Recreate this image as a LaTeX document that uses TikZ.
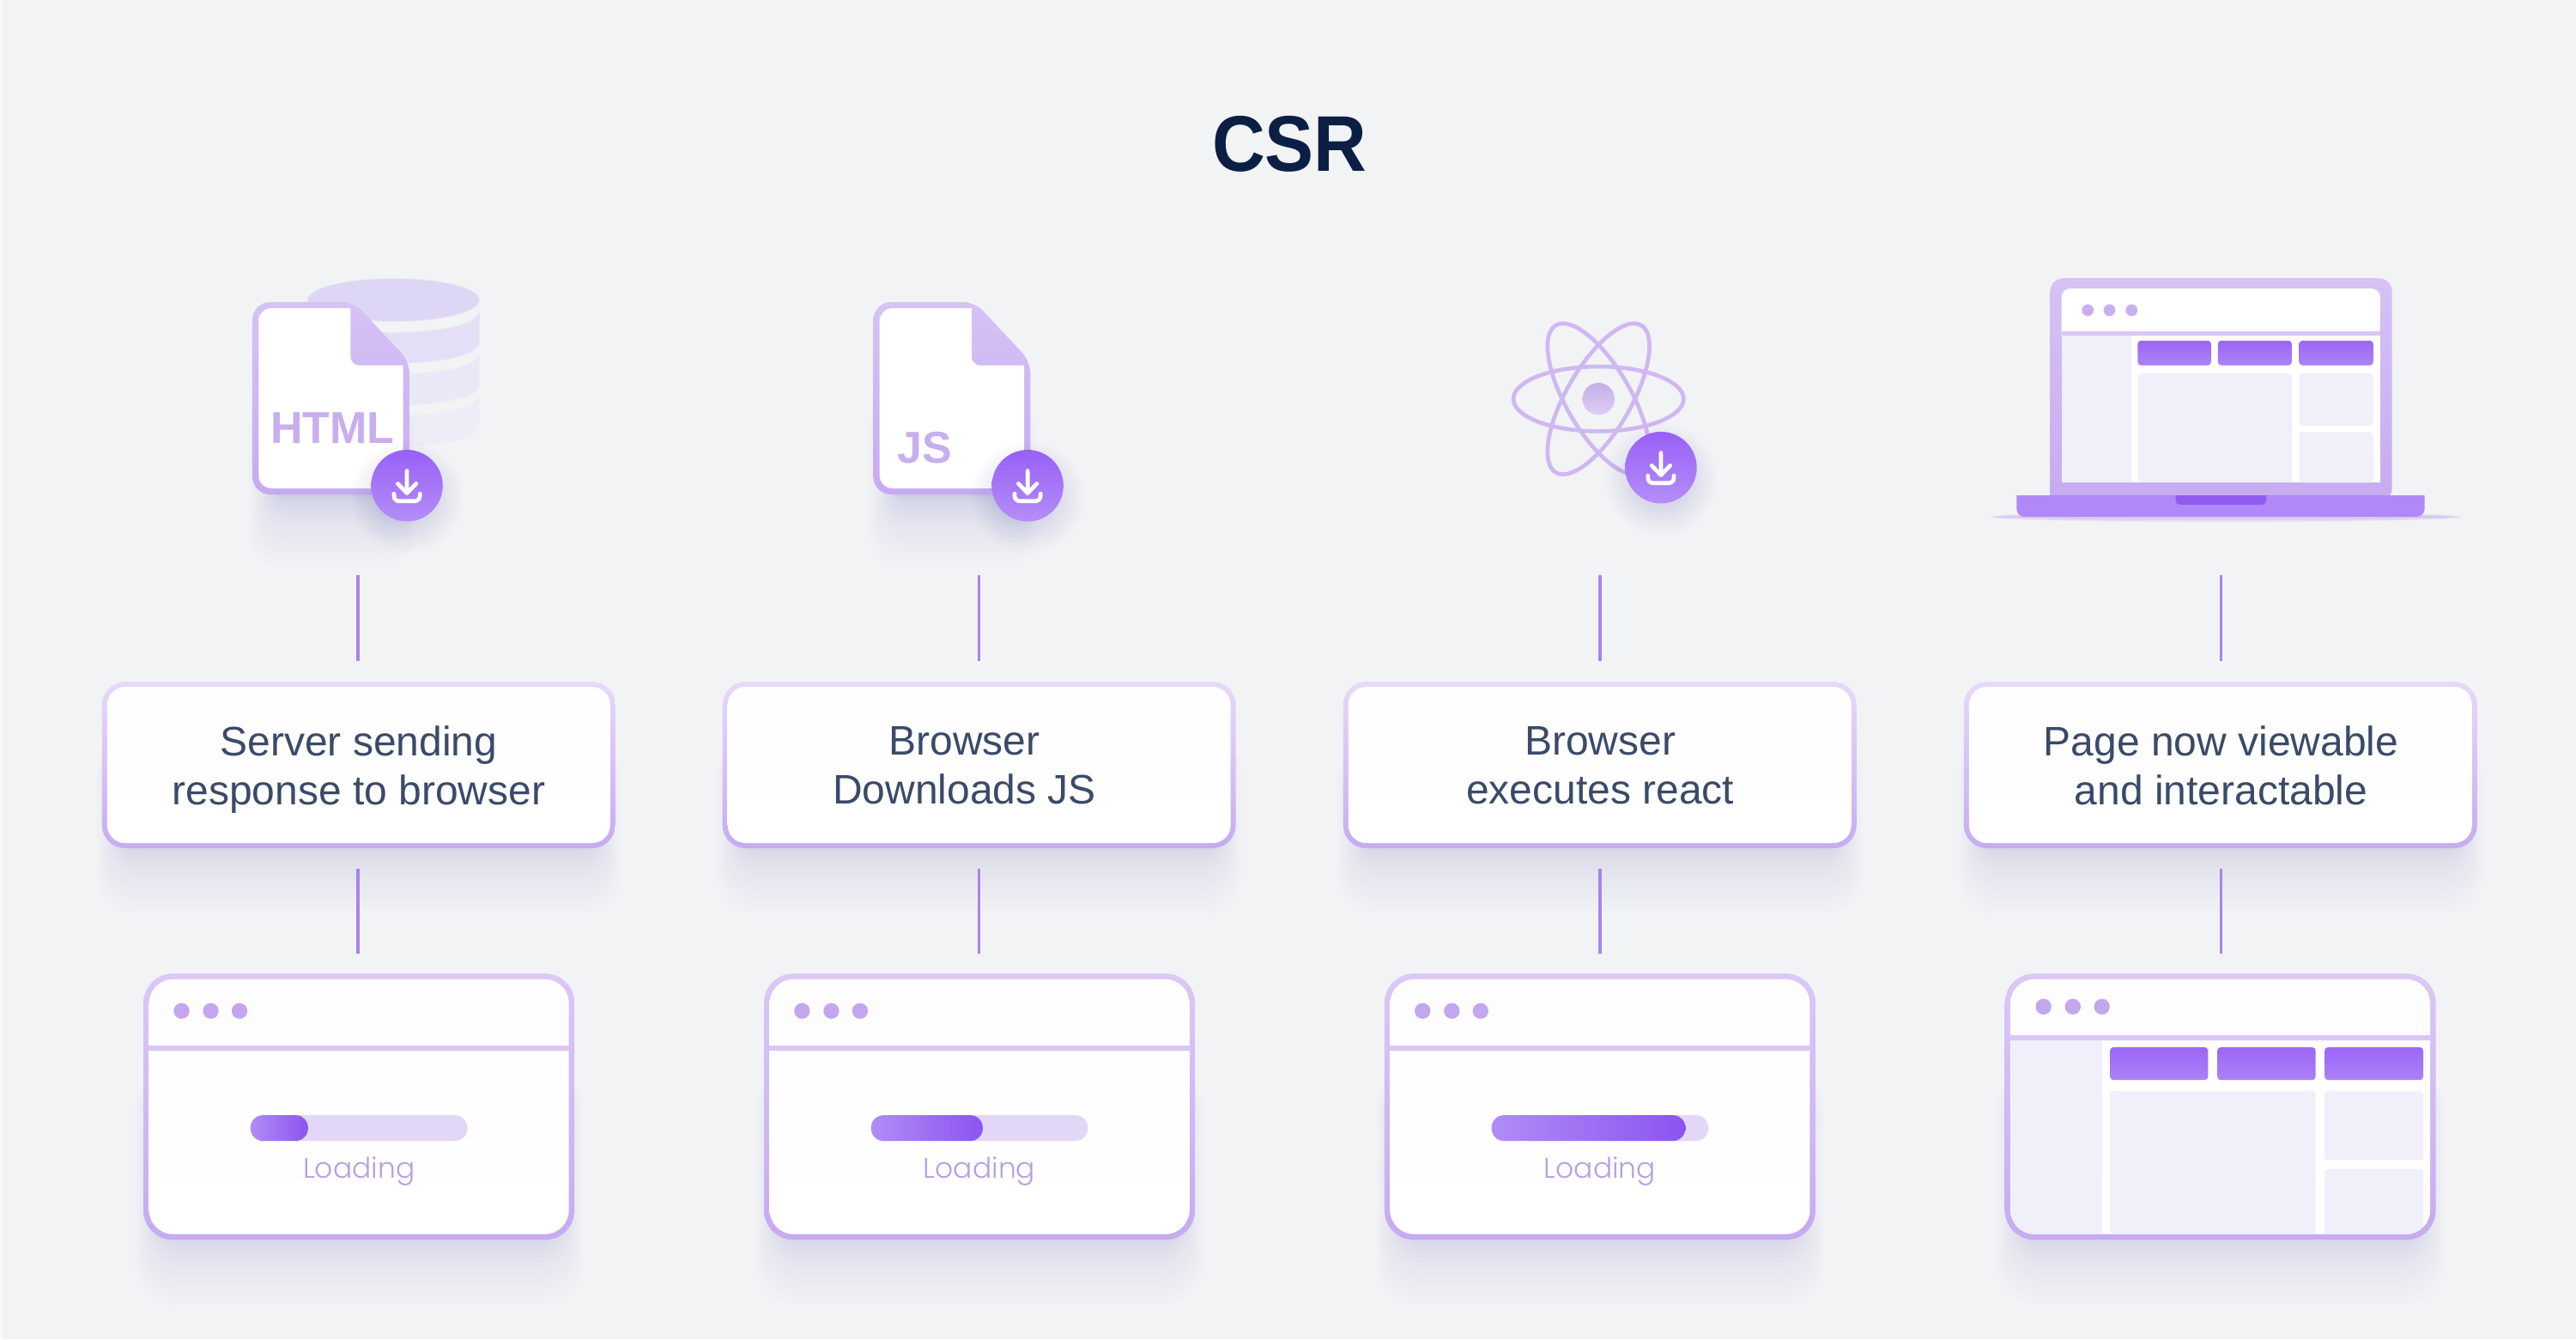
\documentclass[tikz,border=0pt]{standalone}
\usepackage{fontspec}
\setmainfont{Liberation Sans}
\newfontfamily\loadfont{Poppins Light}
\usetikzlibrary{calc}
\definecolor{bgc}{HTML}{F2F3F5}
\definecolor{edgec}{HTML}{F9F9FB}
\definecolor{titlec}{HTML}{0B1F44}
\definecolor{labelc}{HTML}{3A4A68}
\definecolor{connc}{HTML}{A884EC}
\definecolor{rimtop}{HTML}{E6DAF9}
\definecolor{rimbot}{HTML}{C6ABF1}
\definecolor{wintop}{HTML}{DAC8F6}
\definecolor{winbot}{HTML}{C6ABF0}
\definecolor{doctop}{HTML}{D6C2F5}
\definecolor{sepc}{HTML}{D9C6F5}
\definecolor{dotc}{HTML}{C3A6EE}
\definecolor{panelc}{HTML}{F0EFFA}
\definecolor{shadowc}{HTML}{6F5FA8}
\definecolor{btntop}{HTML}{9B66F6}
\definecolor{btnbot}{HTML}{AC82F7}
\definecolor{badgetop}{HTML}{9860F6}
\definecolor{badgebot}{HTML}{B48EF9}
\definecolor{barc}{HTML}{E3D7F7}
\definecolor{progl}{HTML}{B08CF6}
\definecolor{progr}{HTML}{8B54F0}
\definecolor{loadc}{HTML}{B7A0E0}
\definecolor{iconc}{HTML}{C9AEEE}
\definecolor{atomc}{HTML}{CFB8F2}
\definecolor{dba}{HTML}{DDD6F5}
\definecolor{dbb}{HTML}{E4DFF6}
\definecolor{dbc}{HTML}{EAE7F6}
\definecolor{dbd}{HTML}{EEECF6}
\tikzset{
  conn/.style={draw=connc,line width=3.6pt},
  cardrim/.style={rectangle,draw=none,top color=rimtop,bottom color=rimbot,rounded corners=27pt,minimum width=598pt,minimum height=194pt,inner sep=0pt},
  cardface/.style={rectangle,draw=none,top color=white!90!panelc,bottom color=white,rounded corners=21pt,minimum width=586pt,minimum height=182pt,inner sep=0pt},
  cardtext/.style={align=center,text=labelc,inner sep=0pt,font=\fontsize{48}{57}\selectfont},
  winrim/.style={rectangle,draw=none,top color=wintop,bottom color=winbot,rounded corners=34pt,minimum width=502pt,minimum height=310pt,inner sep=0pt},
  winface/.style={rectangle,draw=none,top color=white!85!panelc,bottom color=white,rounded corners=28pt,minimum width=489pt,minimum height=297pt,inner sep=0pt},
  loadtext/.style={text=loadc,inner sep=0pt,anchor=base,font=\loadfont\fontsize{33}{36}\selectfont},
  icontext/.style={text=iconc,inner sep=0pt,anchor=base west,font=\bfseries\fontsize{52}{56}\selectfont},
  titletext/.style={text=titlec,inner sep=0pt,font=\bfseries\fontsize{92}{100}\selectfont},
  atomring/.style={draw=atomc,line width=4.7pt},
  btn/.style={top color=btntop,bottom color=btnbot,rounded corners=4pt},
  panel/.style={fill=panelc,rounded corners=4pt},
  bardot/.style={fill=dotc}
}
% soft shadow: stacked translucent rounded rectangles, growing mostly downward
% x1 y1 x2 y2 radius opacity
\newcommand\softrect[6]{%
  \foreach \i in {0,...,19}{%
    \pgfmathsetmacro\rr{#5+1.6*\i}%
    \pgfmathsetmacro\ss{.04*\i*\i}%
    \pgfmathsetmacro\bb{.12*\i*\i}%
    \fill[shadowc,fill opacity=#6,rounded corners=\rr pt]
      ({#1-\ss},{#2}) rectangle ({#3+\ss},{#4+\bb});
  }%
}
\newcommand\softdisc[3]{%
  \foreach \i in {0,...,13}{%
    \fill[shadowc,fill opacity=.012] (#1,#2) circle ({#3+\i*1.4});
  }%
}
\newcommand\badge[2]{%
  \softdisc{#1}{#2+7}{16}%
  \shade[top color=badgetop,bottom color=badgebot] (#1,#2) circle (21.8);
  \draw[white,line width=4.7pt,line cap=round,line join=round]
    (#1,#2-9) -- (#1,#2+4.6) (#1-5.6,#2-1.2) -- (#1,#2+4.6) -- (#1+5.6,#2-1.2);
  \draw[white,line width=4.7pt,line cap=round,rounded corners=6pt]
    (#1-7.9,#2+4.9) -- (#1-7.9,#2+9.4) -- (#1+7.9,#2+9.4) -- (#1+7.9,#2+4.9);
}
\newcommand\docicon[1]{%
  \softrect{#1+12}{240}{#1+84}{302}{10}{.010}%
  \shade[top color=doctop,bottom color=winbot]
    [rounded corners=21pt] (#1,230) -- (#1,183.8) [rounded corners=14pt] -- (#1+61.7,183.8) -- (#1+95.6,220)
    [rounded corners=21pt] -- (#1+95.6,301) -- (#1,301) -- cycle;
  \fill[white] (#1+3.8,195) [rounded corners=15pt] -- (#1+3.8,187.6) [sharp corners] -- (#1+59.8,187.6)
    [rounded corners=10pt] -- (#1+59.8,222.4) [sharp corners] -- (#1+91.8,222.4)
    [rounded corners=15pt] -- (#1+91.8,297.2) -- (#1+3.8,297.2) -- cycle;
}
\newcommand\dbslice[3]{% top edge centre y, bottom edge centre y, colour
  \fill[#3,draw=#3,draw opacity=.45,line width=2pt]
    (187.5,#1-12.8) .. controls (187.5,#1+4.27) and (291.5,#1+4.27) .. (291.5,#1-12.8)
    -- (291.5,#2-12.8) .. controls (291.5,#2+4.27) and (187.5,#2+4.27) .. (187.5,#2-12.8) -- cycle;
}
\newcommand\cardbox[4]{% id, cx, text x, text
  \softrect{#2-145}{450}{#2+145}{513}{14}{.012}%
  \node[cardrim] (box#1) at (#2,465.6) {};
  \node[cardface] (face#1) at (box#1.center) {};
  \node[cardtext] (label#1) at (#3,468.2) {#4\vphantom{p}};
}
\newcommand\browser[3]{% id, cx, separator y
  \softrect{#2-122}{650}{#2+122}{751}{20}{.012}%
  \node[winrim] (win#1) at (#2,673.6) {};
  \node[winface] (pane#1) at (win#1.center) {};
  \fill[sepc] ({#2-128.1},{#3-1.6}) rectangle ({#2+128.1},{#3+1.6});
}
\newcommand\loading[3]{% id, cx, progress width
  \fill[bardot] (#2-108,615.3) circle (4.8) (#2-90.2,615.3) circle (4.8) (#2-72.7,615.3) circle (4.8);
  \fill[barc,rounded corners=14.5pt] (#2-66,678.8) rectangle (#2+66,694.4);
  \shade[left color=progl,right color=progr,rounded corners=14.5pt] (#2-66,678.8) rectangle (#2-66+#3,694.4);
  \node[loadtext] (load#1) at (#2,717) {Loading};
}
\begin{document}
\begin{tikzpicture}[x=1.91390pt,y=-1.91390pt]
\path[use as bounding box,fill=bgc] (0,0) rectangle (1568,815.09);
\fill[edgec] (0,0) rectangle (1.5,815.09);

\node[titletext] (title) at (785,87.6) {\scalebox{.93}[1]{CSR}};

% ---- database behind the HTML file
\dbslice{253.4}{271.7}{dbd}
\dbslice{228}{246.5}{dbc}
\dbslice{202.6}{220.9}{dbb}
\fill[dba,draw=dba,draw opacity=.45,line width=2pt] (239.5,182.6) ellipse (52 and 12.8);

% ---- HTML file
\docicon{153.6}
\node[icontext] (htmltag) at (164.6,270) {HTML};
\badge{247.7}{295.6}

% ---- JS file
\docicon{531.6}
\node[icontext] (jstag) at (546,282) {JS};
\badge{625.5}{295.6}

% ---- atom
\draw[atomring] (973,242.8) ellipse (51.8 and 19.7);
\draw[atomring,rotate around={60:(973,242.8)}] (973,242.8) ellipse (51.8 and 19.7);
\draw[atomring,rotate around={-60:(973,242.8)}] (973,242.8) ellipse (51.8 and 19.7);
\shade[top color=atomc!95!black,bottom color=atomc!70!white] (973,242.8) circle (9.75);
\badge{1011}{284.6}

% ---- laptop
\foreach \i in {0,...,8}{\fill[winbot,fill opacity=.09] (1354.8,314.6) ellipse ({137+\i*.9} and {.9+\i*.3});}
\shade[top color=doctop,bottom color=winbot,rounded corners=15pt]
  (1248,305) -- (1248,169.4) -- (1456,169.4) -- (1456,305) [sharp corners] -- cycle;
\fill[white,rounded corners=10pt] (1254.8,205) -- (1254.8,175.6) -- (1448.8,175.6) -- (1448.8,205) [sharp corners] -- cycle;
\fill[white] (1254.8,203) rectangle (1448.8,293.8);
\fill[sepc] (1254.8,201.7) rectangle (1448.8,204.3);
\fill[panelc] (1254.8,204.3) rectangle (1297.5,293.8);
\fill[dotc!90!white] (1270.8,188.8) circle (3.6) (1284,188.8) circle (3.6) (1297.5,188.8) circle (3.6);
\shade[btn] (1301.2,207.3) rectangle (1345.9,222.4);
\shade[btn] (1350,207.3) rectangle (1395,222.4);
\shade[btn] (1399.5,207.3) rectangle (1444.6,222.4);
\fill[panel] (1301.2,227.3) rectangle (1395,293.6);
\fill[panel] (1399.5,227.3) rectangle (1444.6,259);
\fill[panel] (1399.5,263) rectangle (1444.6,293.8);
\fill[btnbot!95!white] (1227.5,301.6) [rounded corners=9pt] -- (1227.5,314.5) -- (1475.8,314.5) [sharp corners] -- (1475.8,301.6) -- cycle;
\fill[progr!96!white] (1324.3,301.6) [rounded corners=5pt] -- (1324.3,307.2) -- (1379.4,307.2) [sharp corners] -- (1379.4,301.6) -- cycle;

% ---- cards
\cardbox{1}{218.3}{218.3}{Server sending\\response to browser}
\cardbox{2}{596.0}{587}{Browser\\Downloads JS}
\cardbox{3}{973.8}{974}{Browser\\executes react}
\cardbox{4}{1351.6}{1352}{Page now viewable\\and interactable}

% ---- browser windows
\browser{1}{218.5}{638}
\loading{1}{218.5}{35}
\browser{2}{596.2}{638}
\loading{2}{596.2}{68}
\browser{3}{973.9}{638}
\loading{3}{973.9}{118}
\browser{4}{1351.5}{631.7}
\fill[bardot] (1243.9,612.7) circle (4.8) (1261.7,612.7) circle (4.8) (1279.4,612.7) circle (4.8);
\begin{scope}
  \clip[rounded corners=28pt] (1223.8,596) rectangle (1479.2,751.2);
  \fill[panelc] (1222,633.3) rectangle (1279.4,753);
  \shade[btn] (1284.4,637.4) rectangle (1344,657.4);
  \shade[btn] (1349.7,637.4) rectangle (1409.5,657.4);
  \shade[btn] (1415,637.4) rectangle (1475,657.4);
  \fill[panel] (1284.4,664) rectangle (1409.5,751.5);
  \fill[panel] (1415,664) rectangle (1475,706);
  \fill[panel] (1415,711.5) rectangle (1475,760);
\end{scope}

% ---- connectors
\coordinate (top1) at (218,350);
\coordinate (top2) at (596,350);
\coordinate (top3) at (974,350);
\coordinate (top4) at (1352,350);
\foreach \n in {1,2,3,4}{
  \draw[conn,shorten >=24pt] (top\n) -- (top\n |- box\n.north);
  \draw[conn,shorten <=24pt,shorten >=23pt] (top\n |- box\n.south) -- (top\n |- win\n.north);
}
\end{tikzpicture}
\end{document}
